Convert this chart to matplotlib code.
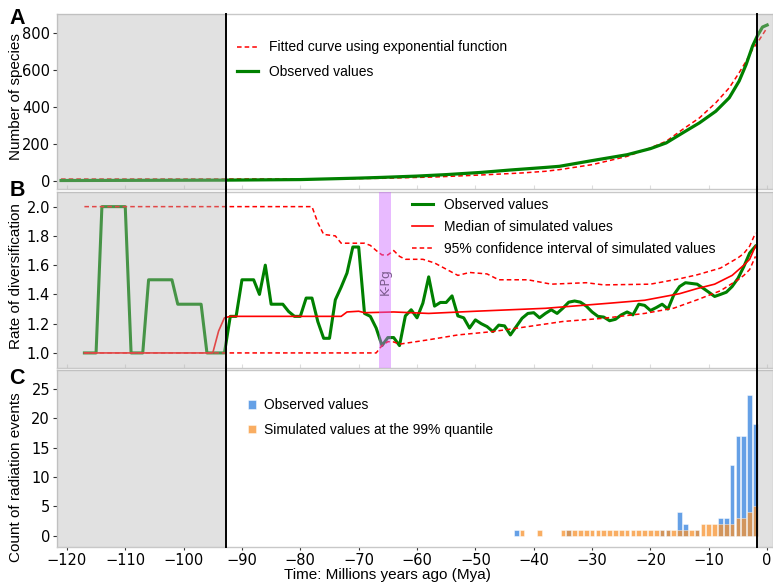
import numpy as np
import matplotlib
matplotlib.use("Agg")
import matplotlib.pyplot as plt

plt.rcParams['font.family'] = ['DejaVu Sans']
LAB = 'Liberation Sans'

# ---- data ----
# A: number of species
a_obs_t = [-121, -93, -80, -75, -70, -66, -60, -55, -49, -44, -38, -35.6, -30, -24, -20,
           -17.3, -14.5, -11.6, -8.8, -6.5, -4.8, -3.6, -2.5, -1.7, -0.8, 0]
a_obs_v = [1, 3, 6, 10, 14, 18, 25, 33, 45, 58, 72, 78, 109, 141, 174,
           205, 259, 314, 377, 450, 541, 631, 731, 785, 834, 845]
a_fit_t = [-121, -93, -75, -66, -57, -49, -42, -38, -35.6, -30, -24, -20, -17.3, -14.5,
           -11.6, -8.8, -6.5, -4.8, -3.6, -2.5, -1.3, 0]
a_fit_v = [9, 9, 10, 13, 20, 31, 42, 51, 60, 87, 132, 178, 214, 278,
           341, 423, 504, 586, 649, 713, 767, 831]

# B: rate of diversification, observed at 1 Myr steps from -117 to -2
b_obs_t = list(range(-117, -1))
b_obs_v = [1.0, 1.0, 1.0, 2.0, 2.0, 2.0, 2.0, 2.0, 1.0, 1.0, 1.0,
           1.5, 1.5, 1.5, 1.5, 1.5, 1.333, 1.333, 1.333, 1.333, 1.333,
           1.0, 1.0, 1.0, 1.0, 1.25, 1.25, 1.5, 1.5, 1.5, 1.4, 1.6,
           1.333, 1.333, 1.333, 1.283, 1.25, 1.25, 1.375, 1.375, 1.214,
           1.1, 1.1, 1.363, 1.45, 1.546, 1.724, 1.724, 1.27, 1.25, 1.17,
           1.05, 1.105, 1.105, 1.05, 1.253, 1.295, 1.24, 1.34, 1.52, 1.32,
           1.345, 1.345, 1.39, 1.253, 1.24, 1.17, 1.226, 1.20, 1.18, 1.146,
           1.19, 1.185, 1.123, 1.18, 1.237, 1.27, 1.275, 1.24, 1.27, 1.295,
           1.27, 1.306, 1.347, 1.355, 1.347, 1.32, 1.28, 1.25, 1.245, 1.22,
           1.23, 1.26, 1.28, 1.26, 1.333, 1.325, 1.29, 1.31, 1.333, 1.30,
           1.397, 1.454, 1.48, 1.475, 1.47, 1.443, 1.415, 1.386, 1.40, 1.415,
           1.454, 1.51, 1.59, 1.683, 1.73]
b_med_t = [-117, -95, -94, -93, -92, -73, -72, -70, -69, -64, -58, -50, -38, -27,
           -21, -15, -12, -9, -6, -4, -3, -2]
b_med_v = [1.0, 1.0, 1.15, 1.24, 1.25, 1.25, 1.28, 1.285, 1.275, 1.28, 1.27, 1.285,
           1.305, 1.34, 1.36, 1.405, 1.44, 1.47, 1.53, 1.60, 1.64, 1.73]
b_hi_t = [-117, -78, -77, -76, -74, -73, -69, -68, -67, -66, -65, -64, -63, -62, -59,
          -57, -53, -51, -48, -46, -41, -37, -31, -28, -20, -15, -12, -8, -5, -4, -3, -2]
b_hi_v = [2.0, 2.0, 1.89, 1.81, 1.80, 1.75, 1.75, 1.735, 1.70, 1.67, 1.67, 1.70, 1.66,
          1.64, 1.64, 1.615, 1.53, 1.55, 1.54, 1.50, 1.50, 1.47, 1.48, 1.465, 1.47,
          1.507, 1.534, 1.58, 1.65, 1.68, 1.73, 1.82]
b_lo_t = [-117, -67, -66, -65, -64, -63, -58, -53, -47, -41, -35, -28, -21, -16, -12,
          -8, -5, -4, -3, -2]
b_lo_v = [1.0, 1.0, 1.05, 1.077, 1.075, 1.06, 1.09, 1.123, 1.146, 1.18, 1.215, 1.237,
          1.27, 1.306, 1.363, 1.425, 1.50, 1.53, 1.57, 1.66]

# C: count of radiation events per 1 Myr bin
c_obs_t = [-43, -34, -18, -17, -15, -14, -12, -8, -7, -6, -5, -4, -3, -2]
c_obs_v = [1, 1, 1, 1, 4, 2, 1, 3, 3, 12, 17, 17, 24, 19]
c_sim_t = [-42, -39] + list(range(-35, -1))
c_sim_v = [1, 1] + [1] * 24 + [2, 2, 2, 2, 2, 2, 3, 3, 4, 5]

kpg = (-66.5, -64.5)
left_cut, right_cut = -92.7, -1.7
xmin, xmax = -121.7, 1.0

fig = plt.figure(figsize=(7.73, 5.82), dpi=100)
axA = fig.add_axes([0.0737, 0.6753, 0.9263, 0.3007])
axB = fig.add_axes([0.0737, 0.3677, 0.9263, 0.3024], sharex=axA)
axC = fig.add_axes([0.0737, 0.0601, 0.9263, 0.3041], sharex=axA)

# A
axA.plot(a_fit_t, a_fit_v, color='red', ls=(0, (3, 2)), lw=1.1,
         label='Fitted curve using exponential function')
axA.plot(a_obs_t, a_obs_v, color='green', lw=2.3, label='Observed values')
axA.set_ylim(-45, 905)
axA.set_yticks([0, 200, 400, 600, 800])
axA.set_ylabel('Number of species', family=LAB, fontsize=11)
axA.yaxis.set_label_coords(-0.047, 0.53)
axA.legend(loc='upper left', bbox_to_anchor=(0.234, 0.92), frameon=False,
           prop={'family': LAB, 'size': 10}, handlelength=1.5, labelspacing=0.75)

# B
axB.plot(b_obs_t, b_obs_v, color='green', lw=2.2, label='Observed values')
axB.plot(b_med_t, b_med_v, color='red', lw=1.2, label='Median of simulated values')
axB.plot(b_hi_t, b_hi_v, color='red', ls=(0, (3, 2)), lw=1.1,
         label='95% confidence interval of simulated values')
axB.plot(b_lo_t, b_lo_v, color='red', ls=(0, (3, 2)), lw=1.1)
axB.axvspan(kpg[0], kpg[1], color='#cc66ff', alpha=0.45, lw=0, zorder=5)
axB.text(np.mean(kpg), 1.49, 'K-Pg', rotation=90, ha='center', va='center',
         fontsize=9, color='#7a5a8c', zorder=6)
axB.set_ylim(0.897, 2.10)
axB.set_yticks([1.0, 1.2, 1.4, 1.6, 1.8, 2.0])
axB.set_ylabel('Rate of diversification', family=LAB, fontsize=11)
axB.yaxis.set_label_coords(-0.047, 0.52)
axB.legend(loc='upper left', bbox_to_anchor=(0.479, 1.035), frameon=False,
           prop={'family': LAB, 'size': 10}, handlelength=1.5, labelspacing=0.55)

# C
axC.bar(c_obs_t, c_obs_v, width=0.8, color='#4a90e2', alpha=0.85,
        edgecolor='white', lw=0.4, label='Observed values')
axC.bar(c_sim_t, c_sim_v, width=0.8, color='#f7922e', alpha=0.75,
        edgecolor='white', lw=0.4, label='Simulated values at the 99% quantile')
axC.set_ylim(-1.9, 28.2)
axC.set_yticks([0, 5, 10, 15, 20, 25])
axC.set_ylabel('Count of radiation events', family=LAB, fontsize=11)
axC.yaxis.set_label_coords(-0.047, 0.395)
axC.set_xlabel('Time: Millions years ago (Mya)', family=LAB, fontsize=11)
axC.xaxis.set_label_coords(0.461, -0.118)
axC.legend(loc='upper left', bbox_to_anchor=(0.249, 0.91), frameon=False,
           prop={'family': LAB, 'size': 10}, handlelength=0.6, handleheight=0.6,
           handletextpad=0.6, labelspacing=0.75)

axA.set_xlim(xmin, xmax)
axC.set_xticks(range(-120, 1, 10))

spans = {axA: (-0.03, 1.0), axB: (-0.03, 1.03), axC: (0.0, 1.03)}
for ax, (y0, y1) in spans.items():
    ax.axvspan(xmin, left_cut, color='#b4b4b4', alpha=0.4, lw=0, zorder=4)
    ax.axvspan(right_cut, xmax, color='#b4b4b4', alpha=0.4, lw=0, zorder=4)
    for xc in (left_cut, right_cut):
        ax.axvline(xc, ymin=y0, ymax=y1, color='black', lw=1.4, zorder=7, clip_on=False)
    for s in ax.spines.values():
        s.set_color('#c8c8c8')
        s.set_linewidth(1.0)
    ax.tick_params(axis='y', labelsize=10.5, length=3, color='#333333', pad=2)

for ax in (axA, axB):
    ax.tick_params(axis='x', direction='in', length=3, color='#dddddd',
                   labelbottom=False)
axC.tick_params(axis='x', labelsize=10.5, length=2.5, color='#333333', pad=1.5)

for letter, yy in (('A', 1 - 19 / 582), ('B', 1 - 191 / 582), ('C', 1 - 379 / 582)):
    fig.text(0.012, yy, letter, family=LAB, fontsize=15.5, fontweight='bold',
             va='center', ha='left')

fig.savefig('out.png', dpi=100)
